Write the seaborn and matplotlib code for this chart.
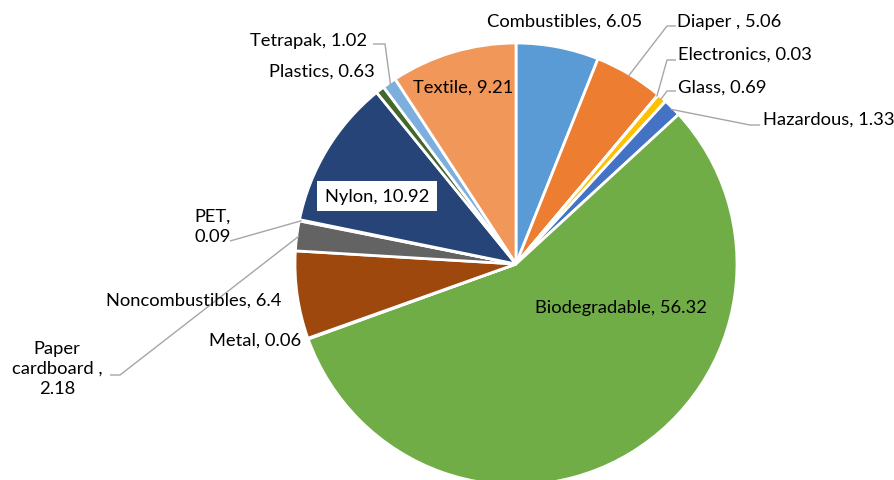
import numpy as np
import matplotlib
matplotlib.use("Agg")
import matplotlib.pyplot as plt
import seaborn as sns

categories = ["Combustibles", "Diaper ", "Electronics", "Glass", "Hazardous",
              "Biodegradable", "Metal", "Noncombustibles", "Paper cardboard ",
              "PET", "Nylon", "Plastics", "Tetrapak", "Textile"]
values = [6.05, 5.06, 0.03, 0.69, 1.33, 56.32, 0.06, 6.4, 2.18, 0.09, 10.92, 0.63, 1.02, 9.21]
value_labels = ["6.05", "5.06", "0.03", "0.69", "1.33", "56.32", "0.06", "6.4", "2.18",
                "0.09", "10.92", "0.63", "1.02", "9.21"]
colors = ["#5B9BD5", "#ED7D31", "#A5A5A5", "#FFC000", "#4472C4", "#70AD47", "#255E91",
          "#9E480E", "#636363", "#997300", "#264478", "#43682B", "#7CAFDD", "#F1975A"]

sns.set_theme(style="white")
plt.rcParams['font.family'] = ['Lato', 'DejaVu Sans']

W, H = 895, 481
fig = plt.figure(figsize=(W / 100, H / 100), dpi=100)
CX, CY, R = 516, 265, 221
ax = fig.add_axes([(CX - R) / W, (H - CY - R) / H, 2 * R / W, 2 * R / H])

pal = sns.color_palette(colors)
wedges, _ = ax.pie(values, colors=pal, startangle=90, counterclock=False, radius=1,
                   wedgeprops=dict(edgecolor="white", linewidth=2))
ax.set_xlim(-1, 1)
ax.set_ylim(-1, 1)
ax.set_aspect("equal")
ax.axis("off")


def P(px, py):
    return ((px - CX) / R, (CY - py) / R)


def anchor(i):
    tot = sum(values)
    mid = (sum(values[:i]) + values[i] / 2) / tot * 360.0
    a = np.deg2rad(mid)
    return (np.sin(a) * 0.99, np.cos(a) * 0.99)


FS = 13.2
LC = "#A6A6A6"

layout = [
    (0, "Combustibles, 6.05", 565, 22, "center", None),
    (1, "Diaper , 5.06", 677, 22, "left", [(676, 27), (667, 27)]),
    (2, "Electronics, 0.03", 678, 55, "left", [(676, 61), (667, 61)]),
    (3, "Glass, 0.69", 678, 88, "left", [(676, 92), (667, 92)]),
    (4, "Hazardous, 1.33", 763, 120, "left", [(760, 126), (750, 126)]),
    (5, "Biodegradable, 56.32", 621, 308, "center", None),
    (6, "Metal, 0.06", 301, 341, "right", None),
    (7, "Noncombustibles, 6.4", 194, 301, "center", None),
    (8, "Paper\ncardboard ,\n2.18", 57, 369, "center", [(110, 376), (120, 376)]),
    (9, "PET,\n0.09", 213, 227, "center", [(230, 242)]),
    (11, "Plastics, 0.63", 375, 72, "right", None),
    (12, "Tetrapak, 1.02", 367, 41, "right", [(373, 45), (385, 45)]),
    (13, "Textile, 9.21", 463, 88, "center", None),
]

for i, txt, px, py, ha, elbow in layout:
    x, y = P(px, py)
    ax.text(x, y, txt, ha=ha, va="center", fontsize=FS, color="black",
            clip_on=False, linespacing=1.3)
    if elbow:
        pts = [P(*e) for e in elbow] + [anchor(i)]
        xs, ys = zip(*pts)
        ax.plot(xs, ys, color=LC, lw=1.0, clip_on=False, solid_capstyle="butt")

nx, ny = P(377, 197)
ax.text(nx, ny, "Nylon, 10.92", ha="center", va="center", fontsize=FS, color="black",
        bbox=dict(boxstyle="square,pad=0.4", fc="white", ec="none"))

fig.savefig("out.png", dpi=100, facecolor="white")
